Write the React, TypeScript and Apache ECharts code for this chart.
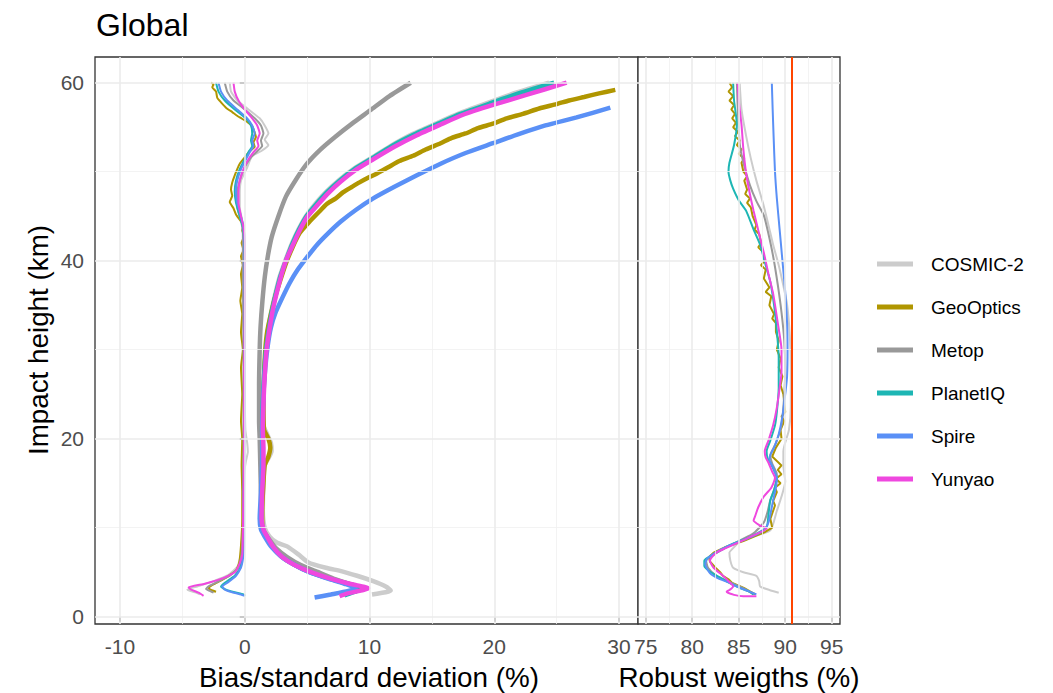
import React, { useEffect, useRef } from "react";
import * as echarts from "echarts";

// ---------- data ----------
const satellites = ["COSMIC-2", "GeoOptics", "Metop", "PlanetIQ", "Spire", "Yunyao"];
const colors = ["#CCCCCC", "#B09600", "#999999", "#1DB6B4", "#5A90F6", "#EF48DF"];

const xTicksLeft = [-10, 0, 10, 20, 30];
const xMinorLeft = [-5, 5, 15, 25];
const xTicksRight = [75, 80, 85, 90, 95];
const xMinorRight = [77.5, 82.5, 87.5, 92.5];
const yTicks = [0, 20, 40, 60];
const yMinor = [10, 30, 50];
const refWeight = 90.75;

// standard deviation profiles [value %, impact height km]
const cosmicStd = [[24.4,60],[21.8,58.9],[19.4,57.7],[17.1,56.5],[15.3,55.4],[13.4,54.2],[11.7,52.9],[10.1,51.5],[8.7,50.3],[7.5,49],[6.5,47.7],[5.6,46.3],[4.9,45],[4.3,43.5],[3.8,42],[3.25,40],[2.8,38.2],[2.4,36],[2.1,34.1],[1.85,32],[1.7,30],[1.55,27],[1.5,24],[1.5,21.5],[1.8,20.5],[2.1,19.5],[2.15,18.6],[1.9,17.8],[1.6,17],[1.5,15],[1.45,12],[1.6,10],[2.0,9.0],[2.6,8.3],[3.4,7.9],[4.3,7.0],[5.1,6.1],[6.5,5.5],[7.8,5.1],[9.0,4.6],[10.3,4.0],[11.3,3.4],[11.7,2.95],[11.3,2.75],[10.2,2.5]];
const geoStd = [[29.7,59.2],[28.4,58.8],[27.2,58.4],[26.0,58.0],[25.0,57.6],[23.6,57.1],[22.3,56.5],[21.0,56.0],[19.9,55.4],[18.7,54.9],[17.7,54.3],[16.6,53.8],[15.7,53.2],[14.5,52.5],[13.5,51.8],[12.4,51.2],[11.5,50.5],[10.6,49.8],[10.0,49.4],[9.2,48.8],[8.6,48.3],[7.9,47.7],[7.3,47.0],[6.6,46.4],[6.1,45.7],[5.2,44.4],[4.4,43.1],[3.8,41.4],[3.3,39.7],[2.85,37.8],[2.45,36],[2.1,34],[1.8,32],[1.65,30],[1.55,27],[1.5,24],[1.55,21],[1.9,20],[2.05,19],[1.9,18],[1.6,17],[1.5,15],[1.4,12],[1.4,10],[1.7,9.2],[2.2,8.0],[3.0,6.9],[4.0,6.0],[5.3,5.1],[6.8,4.3],[8.3,3.7],[9.3,3.3],[9.4,3.1],[8.6,2.8],[7.9,2.5]];
const metopStd = [[13.3,60],[11.6,58.5],[10.06,56.9],[8.6,55.4],[7.24,53.9],[6.0,52.4],[4.99,50.9],[4.1,49.1],[3.3,47.2],[2.7,45],[2.17,42.7],[1.85,40.5],[1.61,38.2],[1.42,35.5],[1.27,32.6],[1.2,30],[1.15,26],[1.15,22],[1.2,20],[1.25,17],[1.3,14],[1.35,11],[1.5,9.7],[1.9,8.8],[2.5,7.7],[3.4,6.7],[4.5,5.8],[5.9,5.0],[7.3,4.2],[8.6,3.6],[9.4,3.2],[9.0,2.9],[8.1,2.6]];
const planetStd = [[24.8,60],[22.2,58.9],[19.7,57.7],[17.3,56.5],[15.5,55.4],[13.6,54.2],[11.8,52.9],[10.2,51.5],[8.8,50.3],[7.6,49],[6.6,47.7],[5.7,46.3],[4.95,45],[4.35,43.5],[3.85,42],[3.3,40],[2.85,38.2],[2.45,36],[2.15,34.1],[1.9,32],[1.7,30],[1.55,27],[1.45,24],[1.4,21],[1.45,19],[1.45,17],[1.35,14],[1.3,11],[1.45,9.8],[1.75,9.0],[2.2,7.9],[2.9,6.8],[3.9,5.9],[5.2,5.0],[6.7,4.3],[8.2,3.7],[9.2,3.3],[9.4,3.15],[9.0,2.9],[8.4,2.6],[8.0,2.4]];
const spireStd = [[29.3,57.2],[26.6,56.1],[24.1,55.2],[21.9,54.2],[19.9,53.2],[17.7,52.1],[15.7,50.9],[13.8,49.6],[12.0,48.3],[10.3,47.0],[8.9,45.7],[7.7,44.4],[6.7,43.1],[5.8,41.8],[5.0,40.4],[4.2,38.9],[3.6,37.5],[3.0,35.8],[2.45,34.1],[2.1,32.5],[1.85,30.5],[1.65,28],[1.5,25],[1.4,21],[1.4,18],[1.3,14],[1.2,11],[1.3,9.8],[1.6,9.0],[2.1,7.9],[2.9,6.8],[3.9,5.9],[5.2,5.0],[6.6,4.3],[8.0,3.7],[8.9,3.2],[8.3,2.9],[6.9,2.5],[5.6,2.15]];
const yunyaoStd = [[25.8,60],[22.5,58.6],[19.9,57.5],[17.5,56.4],[15.7,55.3],[13.8,54.1],[12.0,52.8],[10.3,51.4],[8.9,50.2],[7.7,48.9],[6.7,47.6],[5.8,46.2],[5.0,44.9],[4.4,43.4],[3.9,41.9],[3.3,40],[2.9,38.2],[2.5,36],[2.2,34.1],[1.95,32],[1.75,30],[1.6,27],[1.5,24],[1.45,21],[1.5,19],[1.5,17],[1.4,14],[1.35,11],[1.5,9.8],[1.8,9.0],[2.3,7.8],[3.0,6.7],[4.0,5.8],[5.3,5.0],[6.8,4.3],[8.4,3.7],[9.6,3.35],[9.9,3.2],[9.5,3.0],[8.2,2.6],[7.6,2.3]];

// bias profiles [value %, impact height km]
const cosmicBias = [[-1.2,60],[-1.1,59],[-0.6,58],[0.3,57],[1.2,56],[1.6,55.2],[1.9,54.3],[1.6,53.6],[1.9,53],[1.3,52.3],[0.6,51.8],[0.2,50.5],[-0.3,49],[-0.4,47.5],[-0.4,46],[-0.2,44.5],[-0.1,43],[-0.1,38],[-0.05,30],[0,25],[0.05,21],[0.2,19.5],[0.25,18.5],[0.1,17.5],[-0.05,16],[-0.1,12],[-0.2,9],[-0.3,7],[-0.6,5.6],[-1.3,4.7],[-2.5,4.0],[-3.8,3.4],[-4.6,3.05],[-4.4,2.9],[-3.9,2.7],[-3.6,2.5]];
const geoBias = [[-2.7,60],[-2.5,59.8],[-2.6,59.5],[-2.3,59],[-2.2,58.3],[-1.9,57.8],[-1.5,57.2],[-1.0,56.7],[-0.4,56.1],[0.2,55.6],[0.6,55.1],[0.8,54.4],[0.9,53.9],[0.7,53.3],[0.8,52.8],[0.4,52.3],[0.0,51.6],[-0.4,50.9],[-0.6,50.3],[-0.8,49.6],[-1.0,48.8],[-1.1,48.0],[-1.0,47.3],[-1.2,46.6],[-0.9,45.9],[-0.7,45.2],[-0.4,44.6],[-0.1,44.0],[-0.2,43.4],[-0.05,42.8],[-0.25,42.0],[-0.1,41.2],[-0.3,40.5],[-0.15,39.5],[-0.3,38.5],[-0.2,37],[-0.35,35.5],[-0.2,34],[-0.3,32],[-0.15,30],[-0.3,28],[-0.2,25],[-0.3,22],[-0.2,20],[-0.25,17],[-0.2,14],[-0.2,11],[-0.3,8],[-0.45,6],[-0.7,5.2],[-1.5,4.4],[-2.4,3.7],[-2.9,3.25],[-2.7,3.0],[-2.3,2.8]];
const metopBias = [[-1.6,60],[-1.4,59],[-0.9,58],[0,57],[0.8,56],[1.3,55.2],[1.5,54.3],[1.3,53.5],[1.4,52.9],[1.0,52.3],[0.5,51.6],[0.0,50.5],[-0.4,49],[-0.6,47.5],[-0.6,46],[-0.3,44.5],[-0.15,43],[-0.15,38],[-0.1,30],[-0.1,25],[-0.1,20],[-0.1,15],[-0.15,10],[-0.25,7],[-0.5,5.5],[-1.2,4.6],[-2.2,3.9],[-2.9,3.4],[-3.1,3.1],[-2.8,2.9],[-2.5,2.7]];
const planetBias = [[-2.3,60],[-2.1,59],[-1.6,58],[-0.8,57],[0.1,56],[0.5,55.2],[0.6,54.3],[0.5,53.5],[0.6,52.9],[0.3,52.2],[0.0,51.4],[-0.4,50.3],[-0.7,49],[-0.8,47.8],[-0.7,46.5],[-0.4,45],[-0.15,43.8],[-0.05,42],[0,35],[-0.05,28],[-0.05,20],[-0.1,14],[-0.1,9],[-0.2,7],[-0.35,5.5],[-0.8,4.6],[-1.5,3.9],[-1.9,3.4],[-1.5,3.05],[-0.8,2.75],[-0.1,2.5],[0.05,2.35]];
const spireBias = [[-2.1,60],[-1.9,59],[-1.4,58],[-0.6,57],[0.2,56],[0.6,55.2],[0.8,54.3],[0.6,53.5],[0.7,52.9],[0.4,52.2],[0.1,51.4],[-0.3,50.3],[-0.6,49],[-0.7,47.8],[-0.6,46.5],[-0.3,45],[-0.1,43.8],[0,42],[0,35],[0,28],[0,20],[-0.05,14],[-0.05,9],[-0.1,7],[-0.3,5.5],[-0.7,4.6],[-1.3,3.9],[-1.8,3.4],[-1.6,3.05],[-1.0,2.75],[-0.3,2.5],[0,2.35]];
const yunyaoBias = [[-0.9,60],[-0.8,59],[-0.5,58],[0,57],[0.6,56],[1.0,55.2],[1.2,54.3],[1.0,53.5],[1.1,52.9],[0.7,52.2],[0.3,51.4],[-0.1,50.3],[-0.4,49],[-0.5,47.8],[-0.5,46.5],[-0.3,45],[-0.1,43.8],[0,42],[0,35],[-0.05,28],[-0.05,20],[-0.1,14],[-0.15,9],[-0.2,7],[-0.4,6],[-0.8,5.0],[-1.8,4.3],[-3.2,3.7],[-4.5,3.3],[-4.3,3.05],[-3.7,2.7],[-3.3,2.35]];

// robust weights [value %, impact height km]
const cosmicWeight = [[85.1,60],[85.3,57],[85.8,54],[86.3,51.5],[86.9,49],[87.6,46.5],[88.2,44],[88.7,41.8],[89.3,39.5],[89.8,37.2],[90.2,35.1],[90.5,31.5],[90.6,27.8],[90.6,23.6],[90.4,21],[89.8,18.6],[89.8,17],[90.0,15.2],[89.6,13.5],[89.1,11.9],[88.4,9.7],[86.5,9.0],[85.1,8.4],[84.3,7.6],[84.0,7.2],[84.1,6.3],[84.4,5.5],[85.5,5.0],[86.9,4.6],[87.2,4.0],[87.3,3.4],[88.3,3.0],[89.3,2.7]];
const geoWeight = [[84.0,60],[84.3,59.5],[83.9,59],[84.4,58.5],[84.0,58],[84.5,57.5],[84.2,57],[84.6,56.5],[84.3,56],[84.7,55.5],[84.4,55],[84.9,54.5],[84.6,54],[85.1,53.5],[84.8,53],[85.3,52.5],[85.0,52],[85.6,51.5],[85.3,51],[85.5,50],[85.9,49.5],[85.6,49],[85.9,48],[85.7,47.5],[86.2,47],[85.9,46.5],[86.3,46],[86.5,45],[86.9,44],[86.7,43.5],[87.2,43],[87.4,42],[87.1,41.5],[87.6,41],[87.8,40],[87.4,39.5],[87.9,39],[87.7,38],[88.3,37],[87.9,36.5],[88.5,36],[88.3,35],[88.8,34],[88.6,33.5],[89.0,33],[89.0,32],[89.3,31],[89.1,30],[89.5,29],[89.3,28],[89.7,27],[89.5,26],[89.8,25],[89.9,24],[90.0,23],[89.6,22.5],[89.9,22],[89.5,21],[89.6,20],[89.0,19],[88.6,18],[89.1,17.5],[89.6,17],[89.2,16.5],[89.6,16],[89.0,15.5],[89.5,15],[88.9,14.5],[89.1,14],[88.7,13],[88.9,12.5],[88.4,11],[88.6,10],[87.8,9.5],[85.5,8.5],[83.5,7.8],[82.3,7.2],[81.8,6.7],[81.9,6.2],[82.5,5.5],[83.0,5.0],[83.3,4.6],[83.9,4.2],[84.3,3.8],[85.0,3.5],[85.6,3.2],[86.3,2.8],[86.8,2.5]];
const metopWeight = [[84.8,60],[84.9,57],[85.1,53.2],[85.5,51],[86.2,48.5],[86.9,46.7],[87.7,45.1],[88.2,43],[88.7,40.5],[89.2,37.3],[89.6,34.2],[89.9,31],[90.0,27.8],[89.9,25],[89.6,21.5],[89.0,19.5],[88.4,18.1],[88.6,17.2],[89.1,16.0],[88.9,14.6],[88.4,13.1],[88.1,11.8],[87.7,10.6],[86.5,9.3],[84.0,8.0],[82.5,7.1],[81.5,6.3],[81.7,5.5],[82.6,4.6],[83.8,4.0],[85.1,3.4],[86.0,2.9],[86.6,2.5]];
const planetWeight = [[84.4,60],[84.5,58],[84.8,55.3],[84.5,53],[84.0,51],[83.9,50],[84.1,49],[84.4,48.1],[85.0,46.8],[85.8,45.6],[86.6,43.5],[87.3,41.8],[87.9,39.5],[88.4,37.6],[88.8,35],[89.1,32.1],[89.3,29],[89.3,25.7],[89.1,23],[88.9,21.5],[88.4,19.8],[88.0,18.6],[88.1,17.8],[88.4,17.3],[88.9,16.2],[89.1,15.6],[88.8,14.2],[88.4,13.1],[88.2,11.5],[88.0,10.1],[86.5,9.1],[84.0,8.0],[82.3,7.0],[81.3,6.3],[81.3,5.7],[82.0,5.0],[83.0,4.4],[84.0,3.8],[85.2,3.2],[86.2,2.8],[86.6,2.5]];
const spireWeight = [[88.56,60],[88.65,57],[88.75,54],[88.9,50],[89.1,47],[89.4,43.5],[89.7,40],[90.0,36.5],[90.2,33],[90.25,30],[90.2,27],[90.0,25],[89.7,22.5],[89.3,20.5],[88.8,19],[88.4,18.2],[88.3,17.6],[88.7,16.8],[89.1,15.5],[89.0,14.5],[88.7,13.1],[88.5,12],[88.2,10.6],[87.7,9.7],[86.0,8.8],[84.0,8.0],[82.5,7.2],[81.6,6.5],[81.4,5.9],[81.9,4.9],[82.8,4.3],[84.0,3.8],[85.0,3.3],[86.0,2.9],[86.9,2.5]];
const yunyaoWeight = [[84.9,60],[85.0,58],[85.3,55.3],[85.5,52.5],[85.8,49.8],[86.2,47.5],[86.6,45.6],[87.2,43],[87.7,40.9],[88.2,38.5],[88.7,36.3],[89.2,33],[89.6,30],[89.6,27.5],[89.4,25.7],[89.1,23.5],[88.7,21.5],[88.2,19.8],[87.8,18.6],[87.9,17.9],[88.2,17.3],[88.6,16.3],[88.9,15.6],[88.5,14.5],[87.7,13.5],[87.1,12.3],[86.8,11.4],[86.6,10.8],[87.2,10.3],[88.0,9.9],[86.5,9.1],[85.1,8.4],[83.6,7.7],[82.6,7.2],[81.9,6.3],[82.3,5.5],[83.3,4.6],[83.9,4.0],[84.4,3.4],[84.0,3.0],[83.7,2.8],[84.5,2.45],[85.5,2.3],[86.9,2.3]];

const stdData = [cosmicStd, geoStd, metopStd, planetStd, spireStd, yunyaoStd];
const biasData = [cosmicBias, geoBias, metopBias, planetBias, spireBias, yunyaoBias];
const weightData = [cosmicWeight, geoWeight, metopWeight, planetWeight, spireWeight, yunyaoWeight];

const FONT = "'Liberation Sans', Arial, Helvetica, sans-serif";

function gridLineData(majX: number[], minX: number[]) {
  const major = { color: "#EBEBEB", width: 1.6, type: "solid" };
  const minor = { color: "#F0F0F0", width: 0.8, type: "solid" };
  return [
    ...minX.map((v) => ({ xAxis: v, lineStyle: minor })),
    ...yMinor.map((v) => ({ yAxis: v, lineStyle: minor })),
    ...majX.map((v) => ({ xAxis: v, lineStyle: major })),
    ...yTicks.map((v) => ({ yAxis: v, lineStyle: major })),
  ];
}

export default function App() {
  const ref = useRef<HTMLDivElement>(null);
  useEffect(() => {
    const chart = echarts.init(ref.current!, null, { renderer: "svg" });
    const series: any[] = [];
    [0, 1].forEach((g) => {
      series.push({
        type: "line",
        name: "grid" + g,
        xAxisIndex: g,
        yAxisIndex: g,
        data: [],
        z: 1,
        silent: true,
        markLine: {
          silent: true,
          symbol: ["none", "none"],
          label: { show: false },
          animation: false,
          data: g === 0 ? gridLineData(xTicksLeft, xMinorLeft) : gridLineData(xTicksRight, xMinorRight),
        },
      });
    });
    satellites.forEach((name, i) => {
      series.push({
        type: "line", name, xAxisIndex: 0, yAxisIndex: 0, data: biasData[i],
        showSymbol: false, symbol: "none", z: 3, smooth: 0.15,
        lineStyle: { color: colors[i], width: 2 }, itemStyle: { color: colors[i] },
      });
    });
    satellites.forEach((name, i) => {
      series.push({
        type: "line", name, xAxisIndex: 0, yAxisIndex: 0, data: stdData[i],
        showSymbol: false, symbol: "none", z: 4, smooth: 0.2,
        lineStyle: { color: colors[i], width: 4.5 }, itemStyle: { color: colors[i] },
      });
    });
    satellites.forEach((name, i) => {
      series.push({
        type: "line", name, xAxisIndex: 1, yAxisIndex: 1, data: weightData[i],
        showSymbol: false, symbol: "none", z: 3, smooth: i === 1 ? 0 : 0.2,
        lineStyle: { color: colors[i], width: 2 }, itemStyle: { color: colors[i] },
      });
    });
    series.push({
      type: "line", name: "ref", xAxisIndex: 1, yAxisIndex: 1, data: [], z: 5, silent: true,
      markLine: {
        silent: true, symbol: ["none", "none"], label: { show: false }, animation: false,
        data: [{ xAxis: refWeight, lineStyle: { color: "#FF4500", width: 2, type: "solid" } }],
      },
    });

    const tickStyle = { show: true, length: 5, lineStyle: { color: "#333333", width: 1.5 } };
    const labelStyle = { fontSize: 21, color: "#4D4D4D", fontFamily: FONT };

    chart.setOption({
      animation: false,
      textStyle: { fontFamily: FONT },
      grid: [
        { left: 95, top: 57, width: 543, height: 567, show: true, borderColor: "#333333", borderWidth: 1.3, backgroundColor: "#fff" },
        { left: 638, top: 57, width: 202, height: 567, show: true, borderColor: "#333333", borderWidth: 1.3, backgroundColor: "#fff" },
      ],
      xAxis: [
        {
          gridIndex: 0, type: "value", min: -12, max: 31.52,
          splitLine: { show: false }, axisLine: { show: false },
          axisTick: { ...tickStyle, customValues: xTicksLeft },
          axisLabel: { ...labelStyle, margin: 12, customValues: xTicksLeft },
        },
        {
          gridIndex: 1, type: "value", min: 74.17, max: 95.89,
          splitLine: { show: false }, axisLine: { show: false },
          axisTick: { ...tickStyle, customValues: xTicksRight },
          axisLabel: { ...labelStyle, margin: 12, customValues: xTicksRight },
        },
      ],
      yAxis: [
        {
          gridIndex: 0, type: "value", min: -0.82, max: 62.89,
          splitLine: { show: false }, axisLine: { show: false },
          axisTick: { ...tickStyle, customValues: yTicks },
          axisLabel: { ...labelStyle, margin: 11, customValues: yTicks },
        },
        {
          gridIndex: 1, type: "value", min: -0.82, max: 62.89,
          splitLine: { show: false }, axisLine: { show: false },
          axisTick: { show: false }, axisLabel: { show: false },
        },
      ],
      legend: {
        data: satellites,
        orient: "vertical",
        left: 872,
        top: 248,
        itemWidth: 36,
        itemHeight: 5,
        itemGap: 21,
        icon: "rect",
        selectedMode: false,
        textStyle: { fontSize: 19, color: "#000", lineHeight: 22, fontFamily: FONT, padding: [0, 0, 0, 13] },
      },
      graphic: [
        { type: "text", x: 96, y: 25, style: { text: "Global", fontSize: 32, fontFamily: FONT, fill: "#000", align: "left", verticalAlign: "middle" } },
        { type: "text", x: 38, y: 340, rotation: Math.PI / 2, style: { text: "Impact height (km)", fontSize: 27.8, fontFamily: FONT, fill: "#000", align: "center", verticalAlign: "middle" } },
        { type: "text", x: 369, y: 677, style: { text: "Bias/standard deviation (%)", fontSize: 27.8, fontFamily: FONT, fill: "#000", align: "center", verticalAlign: "middle" } },
        { type: "text", x: 739, y: 677, style: { text: "Robust weigths (%)", fontSize: 27.8, fontFamily: FONT, fill: "#000", align: "center", verticalAlign: "middle" } },
      ],
      series,
    });
    return () => chart.dispose();
  }, []);
  return <div ref={ref} style={{ position: "absolute", left: 0, top: 0, width: 1053, height: 693, background: "#fff" }} />;
}
